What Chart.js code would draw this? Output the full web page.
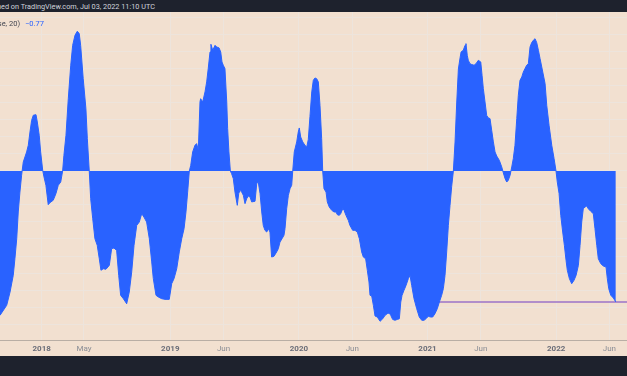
<!DOCTYPE html>
<html>
<head>
<meta charset="utf-8">
<script src="https://cdn.jsdelivr.net/npm/chart.js@4.4.0/dist/chart.umd.min.js"></script>
<style>
  html, body { margin: 0; padding: 0; background: #1e222d; }
  #wrap { position: relative; width: 627px; height: 376px; overflow: hidden; font-family: Roboto, "Noto Sans", sans-serif; }
  #header { position: absolute; left: 0; top: 0; width: 627px; height: 12px; background: #1e222d; overflow: hidden; }
  #header span { position: absolute; right: 472px; top: 1px; font-size: 7.3px; line-height: 12px; color: #d1d4dc; white-space: nowrap; }
  #pane { position: absolute; left: 0; top: 12px; width: 627px; height: 344px; background: #f2e0d0; }
  #legend { position: absolute; left: 0; top: 18px; width: 627px; height: 13px; font-size: 7.5px; line-height: 12px; z-index: 2; }
  #legend .name { position: absolute; right: 607px; white-space: nowrap; color: #434651; }
  #legend .val { position: absolute; left: 25px; color: #2962ff; }
  canvas { position: absolute; left: 0; top: 0; }
</style>
</head>
<body>
<div id="wrap">
  <div id="header"><span>Published on TradingView.com, Jul 03, 2022 11:10 UTC</span></div>
  <div id="pane"><canvas id="chart" width="627" height="344"></canvas></div>
  <div id="legend"><span class="name">Correlation Coefficient (close, 20)</span><span class="val">−0.77</span></div>
</div>
<script>
// time in decimal years, value = correlation coefficient
const times = [
  2017.676, 2017.728, 2017.754, 2017.779, 2017.792, 2017.806, 2017.818, 2017.831, 2017.844, 2017.857,
  2017.883, 2017.896, 2017.909, 2017.922, 2017.935, 2017.956, 2017.966, 2017.981, 2017.992, 2018.008,
  2018.018, 2018.033, 2018.051, 2018.065, 2018.090, 2018.111, 2018.129, 2018.148, 2018.163, 2018.173,
  2018.189, 2018.207, 2018.226, 2018.241, 2018.259, 2018.277, 2018.292, 2018.303, 2018.323, 2018.344,
  2018.355, 2018.370, 2018.381, 2018.397, 2018.414, 2018.432, 2018.448, 2018.461, 2018.479, 2018.500,
  2018.526, 2018.544, 2018.562, 2018.583, 2018.599, 2018.614, 2018.635, 2018.661, 2018.681, 2018.700,
  2018.718, 2018.739, 2018.759, 2018.778, 2018.795, 2018.816, 2018.837, 2018.855, 2018.868, 2018.889,
  2018.907, 2018.933, 2018.959, 2018.992, 2019.011, 2019.029, 2019.050, 2019.070, 2019.089, 2019.107,
  2019.122, 2019.135, 2019.148, 2019.159, 2019.174, 2019.192, 2019.205, 2019.218, 2019.231, 2019.236,
  2019.252, 2019.270, 2019.283, 2019.295, 2019.309, 2019.316, 2019.330, 2019.348, 2019.361, 2019.379,
  2019.392, 2019.402, 2019.412, 2019.425, 2019.439, 2019.446, 2019.456, 2019.467, 2019.477, 2019.490,
  2019.503, 2019.521, 2019.532, 2019.542, 2019.555, 2019.568, 2019.581, 2019.594, 2019.607, 2019.620,
  2019.633, 2019.659, 2019.672, 2019.684, 2019.698, 2019.711, 2019.723, 2019.736, 2019.750, 2019.762,
  2019.775, 2019.788, 2019.806, 2019.827, 2019.840, 2019.853, 2019.869, 2019.884, 2019.892, 2019.905,
  2019.918, 2019.931, 2019.944, 2019.952, 2019.964, 2019.983, 2019.995, 2020.003, 2020.014, 2020.030,
  2020.047, 2020.061, 2020.073, 2020.086, 2020.100, 2020.112, 2020.125, 2020.138, 2020.151, 2020.164,
  2020.177, 2020.185, 2020.195, 2020.211, 2020.221, 2020.236, 2020.255, 2020.273, 2020.288, 2020.299,
  2020.314, 2020.325, 2020.341, 2020.351, 2020.366, 2020.384, 2020.397, 2020.418, 2020.436, 2020.454,
  2020.470, 2020.488, 2020.501, 2020.519, 2020.532, 2020.545, 2020.553, 2020.566, 2020.579, 2020.592,
  2020.610, 2020.631, 2020.652, 2020.670, 2020.687, 2020.703, 2020.714, 2020.729, 2020.747, 2020.765,
  2020.781, 2020.792, 2020.802, 2020.817, 2020.833, 2020.851, 2020.864, 2020.877, 2020.895, 2020.916,
  2020.936, 2020.955, 2020.973, 2020.988, 2021.006, 2021.025, 2021.040, 2021.058, 2021.076, 2021.092,
  2021.110, 2021.123, 2021.136, 2021.149, 2021.162, 2021.175, 2021.188, 2021.201, 2021.214, 2021.227,
  2021.240, 2021.253, 2021.261, 2021.278, 2021.292, 2021.299, 2021.309, 2021.317, 2021.330, 2021.344,
  2021.362, 2021.377, 2021.395, 2021.414, 2021.424, 2021.434, 2021.447, 2021.460, 2021.473, 2021.486,
  2021.499, 2021.512, 2021.525, 2021.538, 2021.558, 2021.577, 2021.589, 2021.603, 2021.616, 2021.628,
  2021.642, 2021.655, 2021.667, 2021.680, 2021.694, 2021.706, 2021.719, 2021.733, 2021.745, 2021.758,
  2021.771, 2021.784, 2021.797, 2021.810, 2021.823, 2021.836, 2021.849, 2021.862, 2021.875, 2021.896,
  2021.914, 2021.927, 2021.945, 2021.966, 2021.984, 2021.999, 2022.009, 2022.023, 2022.036, 2022.051,
  2022.064, 2022.077, 2022.087, 2022.103, 2022.121, 2022.139, 2022.155, 2022.173, 2022.186, 2022.199,
  2022.211, 2022.225, 2022.238, 2022.250, 2022.269, 2022.289, 2022.302, 2022.316, 2022.328, 2022.347,
  2022.367, 2022.388, 2022.398, 2022.409, 2022.425, 2022.445, 2022.464
];
const corr = [
  -0.849, -0.790, -0.712, -0.614, -0.516, -0.398, -0.241, -0.124, -0.025, 0.053,
  0.112, 0.151, 0.229, 0.298, 0.328, 0.331, 0.288, 0.210, 0.112, 0.004,
  -0.035, -0.084, -0.198, -0.186, -0.172, -0.133, -0.084, -0.065, 0.000, 0.092,
  0.210, 0.425, 0.622, 0.739, 0.798, 0.822, 0.808, 0.739, 0.543, 0.366,
  0.190, 0.000, -0.163, -0.281, -0.398, -0.437, -0.516, -0.584, -0.575, -0.578,
  -0.555, -0.457, -0.453, -0.467, -0.614, -0.731, -0.751, -0.781, -0.712, -0.594,
  -0.437, -0.320, -0.300, -0.251, -0.271, -0.300, -0.398, -0.530, -0.633, -0.731,
  -0.741, -0.751, -0.755, -0.755, -0.663, -0.633, -0.575, -0.476, -0.398, -0.339,
  -0.241, -0.124, 0.000, 0.033, 0.112, 0.151, 0.161, 0.122, 0.406, 0.425,
  0.406, 0.465, 0.524, 0.602, 0.700, 0.745, 0.710, 0.739, 0.729, 0.724,
  0.700, 0.641, 0.622, 0.602, 0.406, 0.249, 0.112, 0.000, -0.016, -0.045,
  -0.124, -0.202, -0.133, -0.114, -0.124, -0.143, -0.192, -0.163, -0.147, -0.153,
  -0.182, -0.178, -0.075, -0.065, -0.133, -0.241, -0.320, -0.349, -0.359, -0.339,
  -0.359, -0.506, -0.502, -0.476, -0.457, -0.418, -0.398, -0.378, -0.339, -0.222,
  -0.143, -0.104, -0.084, 0.000, 0.112, 0.171, 0.229, 0.253, 0.200, 0.171,
  0.151, 0.141, 0.185, 0.320, 0.465, 0.533, 0.547, 0.543, 0.524, 0.386,
  0.190, 0.000, -0.104, -0.124, -0.182, -0.212, -0.231, -0.241, -0.241, -0.257,
  -0.261, -0.251, -0.222, -0.231, -0.261, -0.290, -0.320, -0.349, -0.349, -0.359,
  -0.398, -0.476, -0.506, -0.516, -0.584, -0.653, -0.731, -0.735, -0.790, -0.853,
  -0.859, -0.884, -0.869, -0.849, -0.839, -0.835, -0.849, -0.873, -0.878, -0.873,
  -0.869, -0.771, -0.731, -0.702, -0.673, -0.633, -0.614, -0.673, -0.751, -0.810,
  -0.859, -0.878, -0.878, -0.869, -0.855, -0.859, -0.859, -0.839, -0.810, -0.771,
  -0.731, -0.692, -0.614, -0.476, -0.320, -0.202, -0.090, 0.000, 0.170, 0.400,
  0.600, 0.665, 0.700, 0.710, 0.739, 0.749, 0.680, 0.651, 0.631, 0.626,
  0.622, 0.631, 0.651, 0.641, 0.563, 0.484, 0.406, 0.327, 0.312, 0.308,
  0.239, 0.171, 0.112, 0.088, 0.063, 0.024, -0.010, -0.045, -0.065, -0.055,
  -0.025, 0.024, 0.073, 0.151, 0.308, 0.445, 0.533, 0.553, 0.582, 0.602,
  0.622, 0.631, 0.729, 0.755, 0.769, 0.778, 0.755, 0.710, 0.661, 0.582,
  0.514, 0.386, 0.269, 0.151, 0.073, 0.000, -0.065, -0.133, -0.261, -0.359,
  -0.437, -0.525, -0.584, -0.633, -0.663, -0.643, -0.614, -0.555, -0.437, -0.300,
  -0.222, -0.212, -0.206, -0.222, -0.237, -0.251, -0.339, -0.437, -0.516, -0.545,
  -0.559, -0.565, -0.633, -0.692, -0.731, -0.747, -0.770
];

// horizontal level line
const levelValue = -0.77;
const levelStart = 2021.0;

const tickVals = [2018, 2018.329, 2019, 2019.414, 2020, 2020.415, 2021, 2021.414, 2022, 2022.414];
const tickLabels = ['2018', 'May', '2019', 'Jun', '2020', 'Jun', '2021', 'Jun', '2022', 'Jun'];

const xMin = 2017.676;
const xMax = 2022.551;
const yMin = -0.994;
const yMax = 0.935;

const gridColor = '#ede4dc';
const fontFamily = 'Roboto, "Noto Sans", sans-serif';

const ctx = document.getElementById('chart').getContext('2d');
new Chart(ctx, {
  type: 'line',
  data: {
    datasets: [
      {
        data: times.map((t, i) => ({ x: t, y: corr[i] })),
        fill: 'origin',
        backgroundColor: '#2962ff',
        borderColor: '#2962ff',
        borderWidth: 1,
        pointRadius: 0,
        tension: 0,
        order: 1
      },
      {
        data: [{ x: levelStart, y: levelValue }, { x: xMax, y: levelValue }],
        fill: false,
        borderColor: '#9b73c9',
        borderWidth: 1.5,
        pointRadius: 0,
        order: 2
      }
    ]
  },
  options: {
    responsive: false,
    animation: false,
    devicePixelRatio: 1,
    layout: { padding: 0 },
    plugins: { legend: { display: false }, tooltip: { enabled: false } },
    scales: {
      x: {
        type: 'linear',
        min: xMin,
        max: xMax,
        afterBuildTicks(scale) {
          scale.ticks = tickVals.map(v => ({ value: v }));
        },
        afterFit(scale) { scale.height = 16; },
        grid: { color: gridColor, drawTicks: false },
        border: { color: '#b9aea5', width: 1 },
        ticks: {
          autoSkip: false,
          maxRotation: 0,
          padding: 4,
          callback: (value, index) => tickLabels[index],
          color: c => (/^\d{4}$/.test(tickLabels[c.index]) ? '#6a6d78' : '#8a8d95'),
          font: c => ({
            family: fontFamily,
            size: 8,
            weight: /^\d{4}$/.test(tickLabels[c.index]) ? 'bold' : 'normal'
          })
        }
      },
      y: {
        type: 'linear',
        min: yMin,
        max: yMax,
        afterFit(scale) { scale.width = 0; },
        grid: { color: gridColor, drawTicks: false },
        border: { display: false },
        ticks: { display: false, stepSize: 0.1, includeBounds: false }
      }
    }
  }
});
</script>
</body>
</html>
